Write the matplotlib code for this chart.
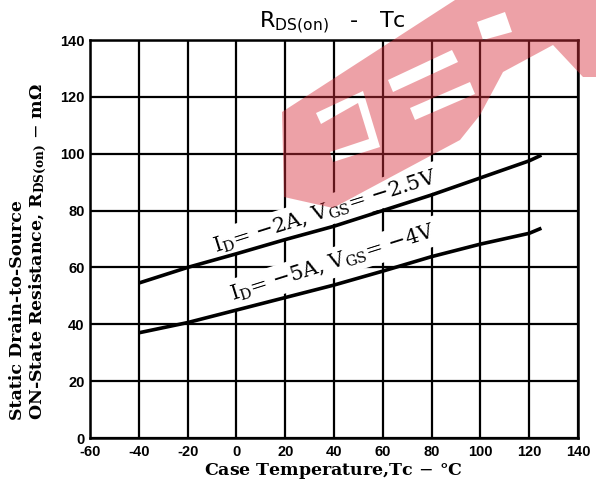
import matplotlib
matplotlib.use("Agg")
import matplotlib.pyplot as plt
import numpy as np
from matplotlib.path import Path
from matplotlib.patches import PathPatch

# ---- data ----
temp_a = [-40, -20, 0, 20, 40, 60, 80, 100, 120, 125]
rds_a = [54.5, 60.0, 64.8, 69.8, 74.5, 80.0, 85.5, 91.5, 97.5, 99.5]   # ID=-2A, VGS=-2.5V
temp_b = [-40, -20, 0, 20, 40, 60, 80, 100, 120, 125]
rds_b = [37.0, 40.6, 45.0, 49.4, 53.8, 58.7, 63.8, 68.2, 72.0, 73.8]   # ID=-5A, VGS=-4V
xticks = [-60, -40, -20, 0, 20, 40, 60, 80, 100, 120, 140]
xtick_labels = ["-60", "-40", "-20", "0", "20", "40", "60", "80", "100", "120", "140"]
yticks = [0, 20, 40, 60, 80, 100, 120, 140]
ytick_labels = ["0", "20", "40", "60", "80", "100", "120", "140"]

plt.rcParams['mathtext.fontset'] = 'dejavuserif'

W, H = 596, 495
fig = plt.figure(figsize=(W / 100, H / 100), dpi=100)
fig.patch.set_facecolor('white')

L, R, T, B = 90, 578, 40, 438
ax = fig.add_axes([L / W, 1 - B / H, (R - L) / W, (B - T) / H])
ax.set_xlim(-60, 140)
ax.set_ylim(0, 140)
ax.set_xticks(xticks)
ax.set_xticklabels(xtick_labels)
ax.set_yticks(yticks)
ax.set_yticklabels(ytick_labels)
ax.tick_params(axis='y', length=0, pad=4)
ax.tick_params(axis='x', length=0, pad=5)
for lab in ax.get_xticklabels() + ax.get_yticklabels():
    lab.set_fontfamily('Liberation Sans')
    lab.set_fontweight('bold')
    lab.set_fontsize(10.5)
ax.set_axisbelow(True)
ax.grid(True, color='black', linewidth=1.6)
for s in ax.spines.values():
    s.set_linewidth(1.8)
    s.set_color('black')

ax.plot(temp_a, rds_a, color='black', linewidth=2.6, solid_capstyle='butt', zorder=3)
ax.plot(temp_b, rds_b, color='black', linewidth=2.6, solid_capstyle='butt', zorder=3)

box = dict(boxstyle='square,pad=0.2', fc='white', ec='none')
ax.text(-8.8, 65.6, 'I$_\\mathrm{D}$= −2A, V$_\\mathrm{GS}$= −2.5V', fontsize=15,
        family='DejaVu Serif', rotation=17.5, rotation_mode='anchor',
        ha='left', va='baseline', zorder=2.6, bbox=box)
ax.text(-1.8, 48.4, 'I$_\\mathrm{D}$= −5A, V$_\\mathrm{GS}$= −4V', fontsize=15,
        family='DejaVu Serif', rotation=17.5, rotation_mode='anchor',
        ha='left', va='baseline', zorder=2.6, bbox=box)

# title
fig.text(332 / W, 1 - 28 / H, r'$\mathregular{R_{DS(on)}}$   -   Tc', fontsize=16,
         family='DejaVu Sans', ha='center', va='baseline')

# axis labels
fig.text(333 / W, 1 - 471 / H, 'Case Temperature,Tc $-$ °C', fontsize=12.5,
         family='DejaVu Serif', fontweight='bold', ha='center', va='center')
fig.text(29 / W, 1 - 420 / H,
         'Static Drain-to-Source\nON-State Resistance, $\\mathbf{R_{DS(on)}}$ $-$ m$\\mathbf{\\Omega}$',
         fontsize=12.5, family='DejaVu Serif', fontweight='bold', rotation=90,
         ha='center', va='bottom', multialignment='left', linespacing=1.15)

# ---- watermark (decoration) ----
def area(pts):
    a = 0
    for i in range(len(pts)):
        x1, y1 = pts[i]
        x2, y2 = pts[(i + 1) % len(pts)]
        a += x1 * y2 - x2 * y1
    return a / 2

outer = [(282, 112), (455, 0), (596, 0), (596, 77), (583, 77), (553, 45),
         (503, 72), (480, 115), (460, 140), (333, 208), (284, 197)]
holes = [
    [(316, 113), (363, 91), (380, 147), (333, 162), (330, 152), (369, 139), (358, 103), (321, 124)],
    [(388, 80), (452, 50), (458, 62), (393, 92)],
    [(410, 108), (470, 82), (475, 94), (415, 120)],
    [(477, 22), (505, 12), (512, 32), (483, 40)],
]
def tofig(pts):
    return [(x / W, 1 - y / H) for x, y in pts]
outer_f = tofig(outer)
if area(outer_f) < 0:
    outer_f = outer_f[::-1]
verts, codes = [], []
def add(poly):
    verts.extend(poly + [poly[0]])
    codes.extend([Path.MOVETO] + [Path.LINETO] * (len(poly) - 1) + [Path.CLOSEPOLY])
add(outer_f)
for h in holes:
    hf = tofig(h)
    if area(hf) > 0:
        hf = hf[::-1]
    add(hf)
wm = PathPatch(Path(verts, codes), transform=fig.transFigure, facecolor='#d8303c',
               edgecolor='none', alpha=0.45, zorder=10)
fig.add_artist(wm)

fig.savefig('out.png', dpi=100)
